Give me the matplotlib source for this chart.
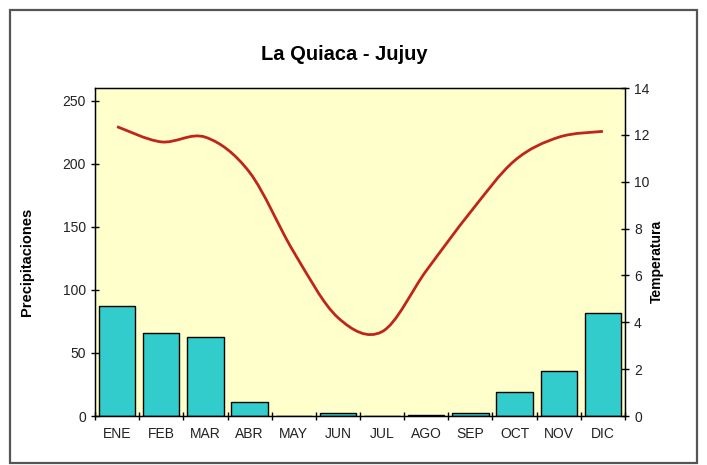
import matplotlib
matplotlib.use("Agg")
import matplotlib.pyplot as plt
import numpy as np
from matplotlib.path import Path
from matplotlib.patches import PathPatch, Rectangle

plt.rcParams['font.family'] = ['Liberation Sans', 'DejaVu Sans']

months = ['ENE', 'FEB', 'MAR', 'ABR', 'MAY', 'JUN', 'JUL', 'AGO', 'SEP', 'OCT', 'NOV', 'DIC']
precip = [87, 66, 63, 11, 0, 2, 0, 1, 2, 19, 36, 82]
temp = [12.35, 11.7, 11.9, 10.4, 7.0, 4.2, 3.6, 6.2, 8.7, 10.9, 11.9, 12.15]


def smooth_path(xs, ys):
    # excel-like smoothed line: catmull-rom segments as cubic bezier
    pts = np.column_stack([xs, ys]).astype(float)
    ext = np.vstack([pts[0], pts, pts[-1]])
    verts = [pts[0]]
    codes = [Path.MOVETO]
    for i in range(len(pts) - 1):
        p0, p1, p2, p3 = ext[i], ext[i + 1], ext[i + 2], ext[i + 3]
        verts += [p1 + (p2 - p0) / 6, p2 - (p3 - p1) / 6, p2]
        codes += [Path.CURVE4] * 3
    return Path(verts, codes)


fig = plt.figure(figsize=(7.07, 4.65), dpi=100)
fig.patch.set_facecolor('white')
fig.patches.append(Rectangle((10 / 707, 2 / 465), 687 / 707, 453 / 465, transform=fig.transFigure,
                             fill=False, edgecolor='#555555', linewidth=1.6))

ax = fig.add_axes([95 / 707, 49 / 465, 530 / 707, 328 / 465])
ax.set_facecolor('#FFFFCC')
x = np.arange(len(months))
ax.bar(x, precip, width=0.82, color='#33CCCC', edgecolor='black', linewidth=1.0, zorder=2)
ax.set_xlim(-0.5, len(months) - 0.5)
ax.set_ylim(0, 260)
ax.set_yticks(np.arange(0, 251, 50))
ax.set_xticks(x)
ax.set_xticklabels(months)
ax.set_xticks(np.arange(-0.5, len(months), 1), minor=True)
ax.tick_params(axis='x', which='major', length=0, pad=8, labelsize=10, labelcolor='#222222')
ax.tick_params(axis='x', which='minor', length=6, direction='inout', width=1)
ax.tick_params(axis='y', length=6, direction='inout', width=1, labelsize=10, labelcolor='#222222')
ax.set_ylabel('Precipitaciones', fontsize=10.5, fontweight='bold', va='center')
ax.yaxis.set_label_coords(-0.128, 0.47)
for s in ax.spines.values():
    s.set_linewidth(1.0)

ax2 = ax.twinx()
ax2.set_ylim(0, 14)
ax2.set_yticks(np.arange(0, 15, 2))
ax2.tick_params(axis='y', length=6, direction='inout', width=1, labelsize=10, labelcolor='#222222')
ax2.set_ylabel('Temperatura', fontsize=10, fontweight='bold', va='center')
ax2.yaxis.set_label_coords(1.06, 0.47)
ax2.add_patch(PathPatch(smooth_path(x, temp), fill=False, edgecolor='#C0251C', linewidth=2.0, zorder=3))

fig.text(344 / 707, 1 - 55 / 465, 'La Quiaca - Jujuy', ha='center', va='center',
         fontsize=14.5, fontweight='bold')

fig.savefig('out.png', dpi=100)
